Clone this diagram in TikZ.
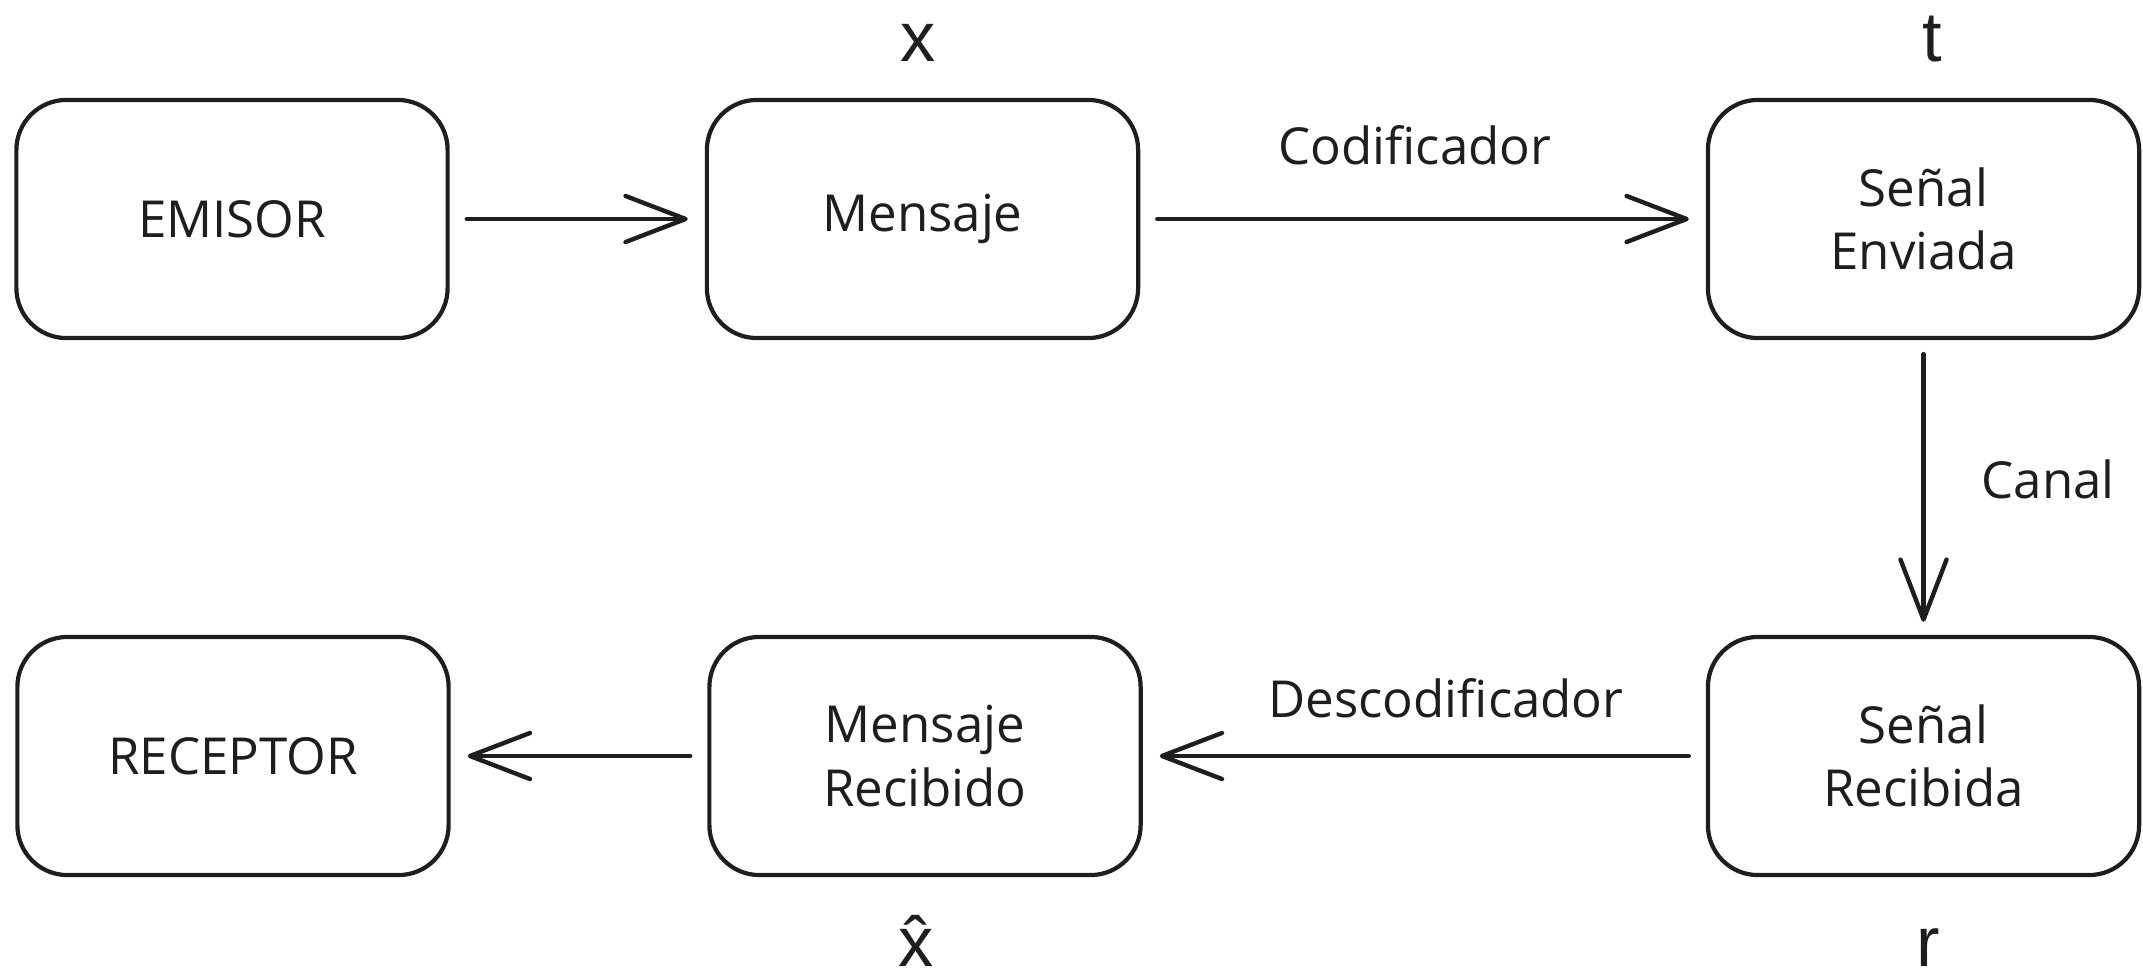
\documentclass[tikz,border=0pt]{standalone}
\usepackage{fontspec}
\setmainfont{Open Sans}
\newfontfamily\varfont{Liberation Sans}
\usetikzlibrary{arrows.meta}
\definecolor{ink}{HTML}{1E1E1E}
\begin{document}
\begin{tikzpicture}[x=0.01cm,y=-0.01cm,
  block/.style={draw=ink, line width=1.2pt, rounded corners=0.5cm,
    minimum width=4.31cm, minimum height=2.38cm, inner sep=0pt,
    align=center, text=ink, font=\fontsize{14.5}{18}\selectfont},
  flow/.style={draw=ink, line width=1.25pt, line cap=round,
    -{Straight Barb[length=0.6cm, width=0.46cm, round]},
    shorten <=0.17cm, shorten >=0.17cm},
  note/.style={anchor=base, text=ink, font=\fontsize{14.5}{18}\selectfont},
  var/.style={anchor=base, text=ink, font=\varfont\fontsize{20}{24}\selectfont}]
\useasboundingbox (0,0) rectangle (2143,979);

% transmitting side
\node[block] (emisor)  at (232,219)    {EMISOR};
\node[block] (mensaje) at (922.5,219)  {Mensaje};
\node[block] (enviada) at (1923.5,219) {Señal\\Enviada};

% receiving side
\node[block] (receptor) at (233,756)    {RECEPTOR};
\node[block] (recibido) at (925,756)    {Mensaje\\Recibido};
\node[block] (recibida) at (1923.5,756) {Señal\\Recibida};

% signal flow
\draw[flow] (emisor.east) -- (mensaje.west);
\draw[flow] (mensaje.east) -- (enviada.west);
\draw[flow, shorten <=0.14cm, shorten >=0.13cm] (enviada.south) -- (recibida.north);
\draw[flow] (recibida.west) -- (recibido.east);
\draw[flow] (recibido.west) -- (receptor.east);

% stage labels
\node[note] (cod)    at (1415,165) {Codificador};
\node[note] (canal)  at (2048,498) {Canal};
\node[note] (descod) at (1446,717) {Descodificador};

% variables
\node[var] (vx)  at (918,62)  {x};
\node[var] (vt)  at (1932,62) {t};
\node[var] (vxh) at (916,966) {\^{x}};
\node[var] (vr)  at (1928,966) {r};
\end{tikzpicture}
\end{document}
